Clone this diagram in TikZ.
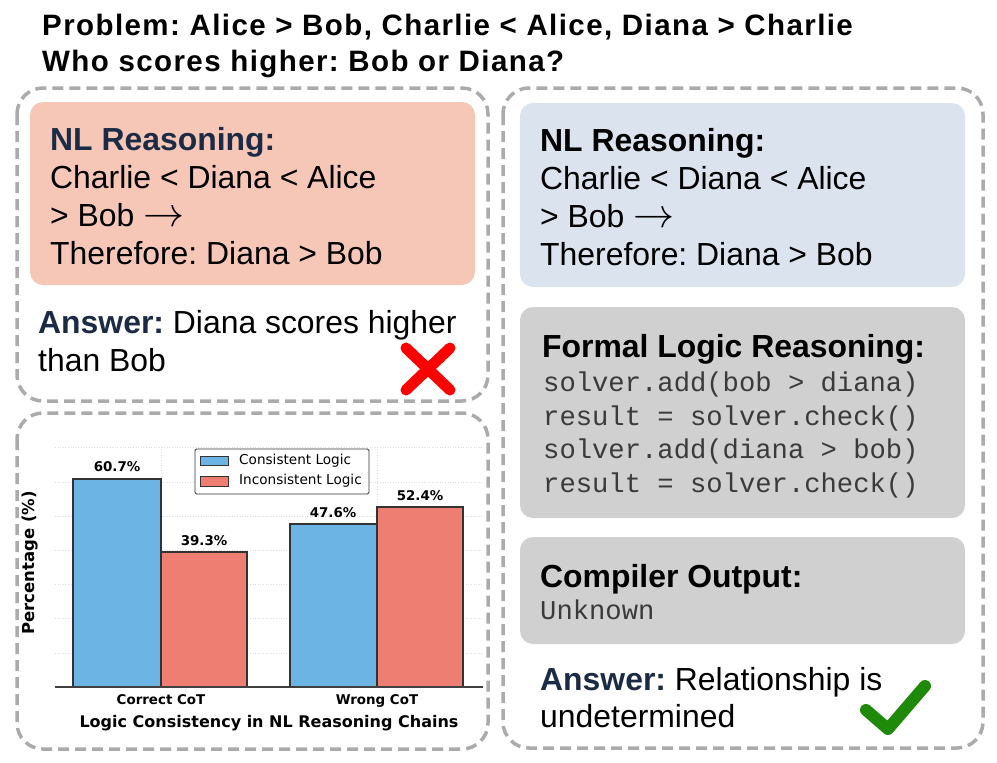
\documentclass[tikz,border=0pt]{standalone}
\usepackage{fontspec}
\usepackage{graphicx}
\setmainfont{Liberation Sans}
\setmonofont{Liberation Mono}
\newfontfamily\chartfont{DejaVu Sans}
\newfontfamily\titlefont[LetterSpace=4.8]{Liberation Sans}
\frenchspacing
\definecolor{navy}{HTML}{1B2B45}
\definecolor{pinkbox}{HTML}{F6C7B7}
\definecolor{bluebox}{HTML}{DAE3EE}
\definecolor{graybox}{HTML}{D0D0D0}
\definecolor{dashgray}{HTML}{ABABAB}
\definecolor{barblue}{HTML}{6CB4E3}
\definecolor{barred}{HTML}{EE7E72}
\definecolor{codegray}{HTML}{3A3A3A}
\definecolor{checkgreen}{HTML}{1F8A0A}
\definecolor{gridgray}{HTML}{DDDDDD}
\newcommand{\bigarrow}{\smash{\scalebox{1.65}{$\rightarrow$}}}
\tikzset{
  panel/.style={draw=dashgray, line width=3.5pt, dash pattern=on 11pt off 6pt, rounded corners=26pt},
  fillbox/.style={rounded corners=13pt, draw=none},
  txt/.style={anchor=base west, inner sep=0pt},
  big/.style={font=\fontsize{31.9}{38.5}\selectfont},
  bigb/.style={font=\bfseries\fontsize{31.9}{38.5}\selectfont},
  code/.style={font=\ttfamily\fontsize{27.2}{34}\selectfont, text=codegray},
  bar/.style={draw=black!80, line width=1.2pt},
  grid/.style={gridgray, line width=0.6pt, dotted},
  barlbl/.style={font=\chartfont\bfseries\fontsize{13.4}{15}\selectfont, anchor=base, inner sep=0pt},
  lgtxt/.style={anchor=west, inner sep=0pt, font=\chartfont\fontsize{13.6}{15}\selectfont},
  ttl/.style={txt, font=\titlefont\bfseries\fontsize{29.5}{34}\selectfont},
}
\begin{document}
\begin{tikzpicture}[x=1pt,y=-1pt]
\useasboundingbox (0,0) rectangle (997,763);
% title
\node[ttl] (title1) at (42,35) {Problem: Alice > Bob, Charlie < Alice, Diana > Charlie};
\node[ttl] (title2) at (42,71) {Who scores higher: Bob or Diana?};

% panels
\draw[panel] (17,88) rectangle (488,401);
\draw[panel] (17,413) rectangle (488,749);
\draw[panel] (503,88) rectangle (983,748);

% left top
\fill[pinkbox, fillbox] (30,102) rectangle (475,285);
\node[txt, bigb, text=navy] (nlL1) at (50,150) {NL Reasoning:};
\node[txt, big] (nlL2) at (50,188) {Charlie < Diana < Alice};
\node[txt, big] (nlL3) at (50,226) {> Bob \bigarrow};
\node[txt, big] (nlL4) at (50,264) {Therefore: Diana > Bob};
\node[txt, big] (ansL1) at (38,333) {\textcolor{navy}{\bfseries Answer:} Diana scores higher};
\node[txt, big] (ansL2) at (38,371) {than Bob};
\draw[red, line width=11pt, line cap=round] (406,348) -- (450,390) (450,348) -- (406,390);

% right
\fill[bluebox, fillbox] (520,103) rectangle (965,287);
\node[txt, bigb] (nlR1) at (540,151) {NL Reasoning:};
\node[txt, big] (nlR2) at (540,189) {Charlie < Diana < Alice};
\node[txt, big] (nlR3) at (540,227) {> Bob \bigarrow};
\node[txt, big] (nlR4) at (540,265) {Therefore: Diana > Bob};
\fill[graybox, fillbox] (520,307) rectangle (965,518);
\node[txt, bigb] (fl) at (542,357) {Formal Logic Reasoning:};
\node[txt, code] (c1) at (543,391) {solver.add(bob > diana)};
\node[txt, code] (c2) at (543,425) {result = solver.check()};
\node[txt, code] (c3) at (543,458) {solver.add(diana > bob)};
\node[txt, code] (c4) at (543,492) {result = solver.check()};
\fill[graybox, fillbox] (520,537) rectangle (965,644);
\node[txt, bigb] (co) at (540,587) {Compiler Output:};
\node[txt, code] (unk) at (540,619) {Unknown};
\node[txt, big] (ansR1) at (540,690) {\textcolor{navy}{\bfseries Answer:} Relationship is};
\node[txt, big] (ansR2) at (540,727) {undetermined};
\draw[checkgreen, line width=12pt, line cap=round, line join=round] (866,710) -- (888,729) -- (925,686);

% chart
\foreach \yy in {447,482,516,550,584,618,653} \draw[grid] (55,\yy) -- (483,\yy);
\draw[grid] (161,447) -- (161,687);
\draw[grid] (377,447) -- (377,687);
\draw[bar, fill=barblue] (73,687) rectangle (161,479);
\draw[bar, fill=barred] (161,687) rectangle (247,552);
\draw[bar, fill=barblue] (290,687) rectangle (377,524);
\draw[bar, fill=barred] (377,687) rectangle (463,507);
\draw[black!75, line width=1.2pt] (55,687) -- (483,687);
\node[barlbl] (v1) at (117,471) {60.7\%};
\node[barlbl] (v2) at (204,545) {39.3\%};
\node[barlbl] (v3) at (333,517) {47.6\%};
\node[barlbl] (v4) at (420,500) {52.4\%};
% legend
\draw[black!80, line width=0.8pt, fill=white, rounded corners=1.5pt] (195,449) rectangle (369,494);
\draw[bar, line width=0.8pt, fill=barblue] (200,456) rectangle (228,465);
\draw[bar, line width=0.8pt, fill=barred] (200,476) rectangle (228,486);
\node[lgtxt] (lg1) at (239,461) {Consistent Logic};
\node[lgtxt] (lg2) at (239,481) {Inconsistent Logic};
% axis labels
\node[rotate=90, inner sep=0pt, font=\chartfont\bfseries\fontsize{16.5}{18}\selectfont] (yl) at (30,563) {Percentage (\%)};
\node[barlbl] (t1) at (161,704) {Correct CoT};
\node[barlbl] (t2) at (377,704) {Wrong CoT};
\node[anchor=base, inner sep=0pt, font=\chartfont\bfseries\fontsize{16}{18}\selectfont] (xl) at (269,727) {Logic Consistency in NL Reasoning Chains};
\end{tikzpicture}
\end{document}
